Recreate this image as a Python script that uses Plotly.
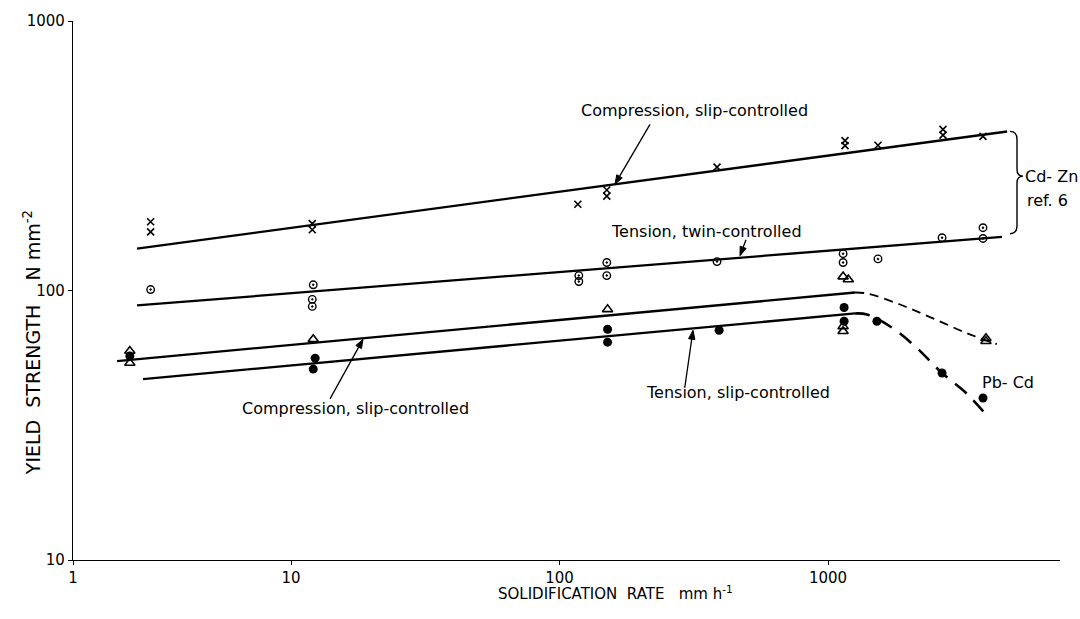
import math
import plotly.graph_objects as go

# ---------------- data ----------------
# Cd-Zn, compression, slip-controlled (x markers)
comp_cdzn_x = [3.0, 3.0, 12.0, 12.0, 117, 150, 150, 386, 1157, 1157, 1535, 2680, 2680, 3777]
comp_cdzn_y = [180, 165, 177, 168, 209, 236, 224, 287, 360, 345, 346, 396, 377, 373]
# Cd-Zn, tension, twin-controlled (dotted circles)
tens_cdzn_x = [3.0, 12.1, 12.0, 12.0, 118, 118, 150, 150, 386, 1138, 1138, 1535, 2659, 3777, 3777]
tens_cdzn_y = [100.8, 105, 92.7, 87.3, 113.6, 108, 127, 113.6, 128, 137, 127, 131, 157, 171, 156]
# Pb-Cd, compression, slip-controlled (open triangles)
comp_pbcd_x = [2.51, 2.51, 12.1, 151, 1138, 1190, 1138, 1138, 3875, 3875]
comp_pbcd_y = [59.6, 53.8, 65.9, 85.1, 112.6, 109.8, 73.6, 70.6, 66.5, 64.8]
# Pb-Cd, tension, slip-controlled (filled circles)
tens_pbcd_x = [2.51, 12.3, 12.1, 151, 151, 393, 1148, 1148, 1521, 2659, 3777]
tens_pbcd_y = [57.1, 56.1, 51.1, 71.8, 64.3, 71.2, 86.5, 76.9, 76.9, 49.4, 39.9]

# fitted lines
fit_comp_cdzn_x = [2.67, 4645]
fit_comp_cdzn_y = [143, 389]
fit_tens_cdzn_x = [2.67, 4446]
fit_tens_cdzn_y = [88.0, 158]
fit_comp_pbcd_x = [2.25, 1261]
fit_comp_pbcd_y = [54.7, 98.3]
fit_tens_pbcd_x = [2.81, 1261]
fit_tens_pbcd_y = [46.9, 82.2]
# dashed continuations (Pb-Cd)
dash_comp_pbcd_x = [1261, 1396, 1854, 2460, 3296, 4256]
dash_comp_pbcd_y = [98.3, 97.5, 88.7, 78.8, 69.4, 63.2]
dash_tens_pbcd_x = [1261, 1396, 1746, 2145, 2659, 3296, 3908]
dash_tens_pbcd_y = [82.2, 81.5, 72.4, 61.1, 49.4, 41.3, 34.3]

x_tick_vals = [10 ** 0.188, 10, 100, 1000]
x_tick_text = ["1", "10", "100", "1000"]
y_tick_vals = [10, 100, 1000]
y_tick_text = ["10", "100", "1000"]

# ---------------- layout geometry ----------------
W, H = 1080, 619
ML, MR, MT, MB = 73, 20, 18, 59
PW, PH = W - ML - MR, H - MT - MB
FONT = "DejaVu Sans"


def px(x):
    return (x - ML) / PW


def py(y):
    return (MT + PH - y) / PH


fig = go.Figure()

line_style = dict(color="black", width=2.3)
for xs, ys in [(fit_comp_cdzn_x, fit_comp_cdzn_y), (fit_tens_cdzn_x, fit_tens_cdzn_y),
               (fit_comp_pbcd_x, fit_comp_pbcd_y), (fit_tens_pbcd_x, fit_tens_pbcd_y)]:
    fig.add_trace(go.Scatter(x=xs, y=ys, mode="lines", line=line_style,
                             showlegend=False, hoverinfo="skip"))

fig.add_trace(go.Scatter(x=dash_comp_pbcd_x, y=dash_comp_pbcd_y, mode="lines",
                         line=dict(color="black", width=1.8, dash="9px,6px", shape="spline"),
                         showlegend=False, hoverinfo="skip"))
fig.add_trace(go.Scatter(x=dash_tens_pbcd_x, y=dash_tens_pbcd_y, mode="lines",
                         line=dict(color="black", width=2.6, dash="15px,10px", shape="spline"),
                         showlegend=False, hoverinfo="skip"))

fig.add_trace(go.Scatter(x=comp_cdzn_x, y=comp_cdzn_y, mode="markers",
                         marker=dict(symbol="x-thin-open", size=7, color="black",
                                     line=dict(color="black", width=1.6)),
                         name="Cd-Zn compression"))
fig.add_trace(go.Scatter(x=tens_cdzn_x, y=tens_cdzn_y, mode="markers",
                         marker=dict(symbol="circle-open-dot", size=7.5, color="black",
                                     line=dict(color="black", width=1.4)),
                         name="Cd-Zn tension"))
fig.add_trace(go.Scatter(x=comp_pbcd_x, y=comp_pbcd_y, mode="markers",
                         marker=dict(symbol="triangle-up-open", size=9, color="black",
                                     line=dict(color="black", width=1.6)),
                         name="Pb-Cd compression"))
fig.add_trace(go.Scatter(x=tens_pbcd_x, y=tens_pbcd_y, mode="markers",
                         marker=dict(symbol="circle", size=9, color="black"),
                         name="Pb-Cd tension"))

ann = []
lab_font = dict(family=FONT, size=16, color="black")
texts = [
    ("Compression, slip-controlled", 694, 108, "center"),
    ("Tension, twin-controlled", 706, 230, "center"),
    ("Tension, slip-controlled", 738, 392, "center"),
    ("Compression, slip-controlled", 355, 408, "center"),
    ("Cd- Zn", 1023, 174, "left"),
    ("ref. 6", 1025, 198, "left"),
    ("Pb- Cd", 980, 382, "left"),
]
for t, x, y, anc in texts:
    ann.append(dict(text=t, x=px(x), y=py(y), xref="paper", yref="paper",
                    xanchor=anc, yanchor="middle", showarrow=False, font=lab_font))

ann.append(dict(text="YIELD  STRENGTH    N mm<sup>-2</sup>", x=px(18), y=py(342),
                xref="paper", yref="paper", textangle=-90, showarrow=False,
                font=dict(family=FONT, size=19, color="black")))
ann.append(dict(text="SOLIDIFICATION  RATE   mm h<sup>-1</sup>", x=px(615), y=py(605),
                xref="paper", yref="paper", showarrow=False,
                font=dict(family=FONT, size=15, color="black")))

shapes = []

# pointer arrows (tip, tail) drawn as a line plus a filled head
arrows = [((615, 182), (650, 122)), ((740, 254), (746, 238)),
          ((693, 329), (685, 385)), ((363, 338), (330, 398))]
for (tx, ty), (sx, sy) in arrows:
    dx, dy = tx - sx, ty - sy
    n = math.hypot(dx, dy)
    ux, uy = dx / n, dy / n
    L, w = 9.0, 3.2
    bx, by = tx - ux * L, ty - uy * L
    shapes.append(dict(type="line", xref="paper", yref="paper",
                       x0=px(sx), y0=py(sy), x1=px(bx), y1=py(by),
                       line=dict(color="black", width=1.3)))
    head = "M {},{} L {},{} L {},{} Z".format(
        px(tx), py(ty), px(bx - uy * w), py(by + ux * w), px(bx + uy * w), py(by - ux * w))
    shapes.append(dict(type="path", path=head, xref="paper", yref="paper",
                       fillcolor="black", line=dict(color="black", width=1)))

# brace for Cd-Zn
pts = [(1010, 129), (1017, 129), (1017, 137), (1017, 167), (1017, 174), (1023, 174),
       (1017, 174), (1017, 181), (1017, 224), (1017, 232), (1010, 232)]
p = [(px(a), py(b)) for a, b in pts]
path = ("M {0[0]},{0[1]} Q {1[0]},{1[1]} {2[0]},{2[1]} L {3[0]},{3[1]} "
        "Q {4[0]},{4[1]} {5[0]},{5[1]} Q {6[0]},{6[1]} {7[0]},{7[1]} "
        "L {8[0]},{8[1]} Q {9[0]},{9[1]} {10[0]},{10[1]}").format(*p)
shapes.append(dict(type="path", path=path, xref="paper", yref="paper",
                   line=dict(color="black", width=1.4)))

fig.update_layout(
    width=W, height=H, margin=dict(l=ML, r=MR, t=MT, b=MB),
    paper_bgcolor="white", plot_bgcolor="white", showlegend=False,
    annotations=ann, shapes=shapes,
    font=dict(family=FONT, color="black"),
)
fig.update_xaxes(type="log", range=[0.188, 0.188 + PW / 268.5], showgrid=False, zeroline=False,
                 showline=True, linecolor="black", linewidth=1.3,
                 tickmode="array", tickvals=x_tick_vals, ticktext=x_tick_text,
                 ticks="outside", ticklen=4, tickcolor="black",
                 tickfont=dict(family=FONT, size=15, color="black"))
fig.update_yaxes(type="log", range=[1, 3], showgrid=False, zeroline=False,
                 showline=True, linecolor="black", linewidth=1.3,
                 tickmode="array", tickvals=y_tick_vals, ticktext=y_tick_text,
                 ticks="outside", ticklen=4, tickcolor="black",
                 tickfont=dict(family=FONT, size=15, color="black"))

fig.write_html("out.html")
